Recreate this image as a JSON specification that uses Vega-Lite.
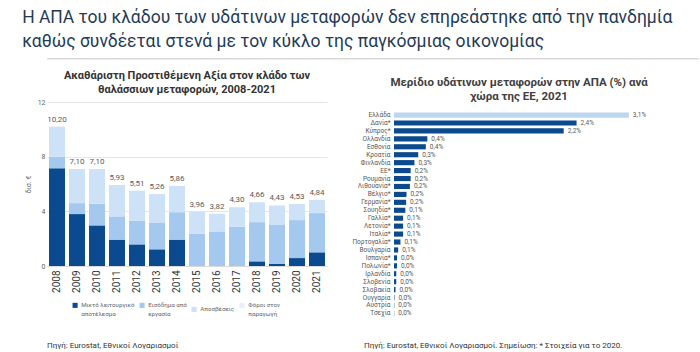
{
  "$schema": "https://vega.github.io/schema/vega-lite/v6.json",
  "background": "white",
  "padding": {"left": 22, "top": 8, "right": 5, "bottom": 0},
  "title": {
    "text": ["Η ΑΠΑ του κλάδου των υδάτινων μεταφορών δεν επηρεάστηκε από την πανδημία", "καθώς συνδέεται στενά με τον κύκλο της παγκόσμιας οικονομίας"],
    "anchor": "start", "fontSize": 17.5, "font": "Roboto, sans-serif", "fontWeight": "normal",
    "color": "#1f3b57", "lineHeight": 24, "offset": 8, "dx": -2
  },
  "config": {
    "font": "Roboto, sans-serif",
    "view": {"stroke": null}
  },
  "resolve": {"scale": {"color": "independent"}, "legend": {"color": "independent"}},
  "datasets": {
    "gva": [
      {"year": "2008", "component": "Μικτό λειτουργικό αποτέλεσμα", "value": 7.15},
      {"year": "2008", "component": "Εισόδημα από εργασία", "value": 0.85},
      {"year": "2008", "component": "Αποσβέσεις", "value": 2.20},
      {"year": "2008", "component": "Φόροι στον παραγωγή", "value": 0},
      {"year": "2009", "component": "Μικτό λειτουργικό αποτέλεσμα", "value": 3.80},
      {"year": "2009", "component": "Εισόδημα από εργασία", "value": 0.80},
      {"year": "2009", "component": "Αποσβέσεις", "value": 2.50},
      {"year": "2009", "component": "Φόροι στον παραγωγή", "value": 0},
      {"year": "2010", "component": "Μικτό λειτουργικό αποτέλεσμα", "value": 2.97},
      {"year": "2010", "component": "Εισόδημα από εργασία", "value": 1.58},
      {"year": "2010", "component": "Αποσβέσεις", "value": 2.55},
      {"year": "2010", "component": "Φόροι στον παραγωγή", "value": 0},
      {"year": "2011", "component": "Μικτό λειτουργικό αποτέλεσμα", "value": 1.93},
      {"year": "2011", "component": "Εισόδημα από εργασία", "value": 1.70},
      {"year": "2011", "component": "Αποσβέσεις", "value": 2.30},
      {"year": "2011", "component": "Φόροι στον παραγωγή", "value": 0},
      {"year": "2012", "component": "Μικτό λειτουργικό αποτέλεσμα", "value": 1.58},
      {"year": "2012", "component": "Εισόδημα από εργασία", "value": 1.75},
      {"year": "2012", "component": "Αποσβέσεις", "value": 2.18},
      {"year": "2012", "component": "Φόροι στον παραγωγή", "value": 0},
      {"year": "2013", "component": "Μικτό λειτουργικό αποτέλεσμα", "value": 1.22},
      {"year": "2013", "component": "Εισόδημα από εργασία", "value": 1.97},
      {"year": "2013", "component": "Αποσβέσεις", "value": 2.07},
      {"year": "2013", "component": "Φόροι στον παραγωγή", "value": 0},
      {"year": "2014", "component": "Μικτό λειτουργικό αποτέλεσμα", "value": 1.93},
      {"year": "2014", "component": "Εισόδημα από εργασία", "value": 2.01},
      {"year": "2014", "component": "Αποσβέσεις", "value": 1.92},
      {"year": "2014", "component": "Φόροι στον παραγωγή", "value": 0},
      {"year": "2015", "component": "Μικτό λειτουργικό αποτέλεσμα", "value": 0},
      {"year": "2015", "component": "Εισόδημα από εργασία", "value": 2.36},
      {"year": "2015", "component": "Αποσβέσεις", "value": 1.60},
      {"year": "2015", "component": "Φόροι στον παραγωγή", "value": 0},
      {"year": "2016", "component": "Μικτό λειτουργικό αποτέλεσμα", "value": 0},
      {"year": "2016", "component": "Εισόδημα από εργασία", "value": 2.53},
      {"year": "2016", "component": "Αποσβέσεις", "value": 1.29},
      {"year": "2016", "component": "Φόροι στον παραγωγή", "value": 0},
      {"year": "2017", "component": "Μικτό λειτουργικό αποτέλεσμα", "value": 0},
      {"year": "2017", "component": "Εισόδημα από εργασία", "value": 2.87},
      {"year": "2017", "component": "Αποσβέσεις", "value": 1.43},
      {"year": "2017", "component": "Φόροι στον παραγωγή", "value": 0},
      {"year": "2018", "component": "Μικτό λειτουργικό αποτέλεσμα", "value": 0.34},
      {"year": "2018", "component": "Εισόδημα από εργασία", "value": 2.87},
      {"year": "2018", "component": "Αποσβέσεις", "value": 1.45},
      {"year": "2018", "component": "Φόροι στον παραγωγή", "value": 0},
      {"year": "2019", "component": "Μικτό λειτουργικό αποτέλεσμα", "value": 0.15},
      {"year": "2019", "component": "Εισόδημα από εργασία", "value": 2.89},
      {"year": "2019", "component": "Αποσβέσεις", "value": 1.39},
      {"year": "2019", "component": "Φόροι στον παραγωγή", "value": 0},
      {"year": "2020", "component": "Μικτό λειτουργικό αποτέλεσμα", "value": 0.58},
      {"year": "2020", "component": "Εισόδημα από εργασία", "value": 2.78},
      {"year": "2020", "component": "Αποσβέσεις", "value": 1.17},
      {"year": "2020", "component": "Φόροι στον παραγωγή", "value": 0},
      {"year": "2021", "component": "Μικτό λειτουργικό αποτέλεσμα", "value": 1.00},
      {"year": "2021", "component": "Εισόδημα από εργασία", "value": 2.87},
      {"year": "2021", "component": "Αποσβέσεις", "value": 0.97},
      {"year": "2021", "component": "Φόροι στον παραγωγή", "value": 0}
    ],
    "totals": [
      {"year": "2008", "total": 10.20, "label": "10,20"},
      {"year": "2009", "total": 7.10, "label": "7,10"},
      {"year": "2010", "total": 7.10, "label": "7,10"},
      {"year": "2011", "total": 5.93, "label": "5,93"},
      {"year": "2012", "total": 5.51, "label": "5,51"},
      {"year": "2013", "total": 5.26, "label": "5,26"},
      {"year": "2014", "total": 5.86, "label": "5,86"},
      {"year": "2015", "total": 3.96, "label": "3,96"},
      {"year": "2016", "total": 3.82, "label": "3,82"},
      {"year": "2017", "total": 4.30, "label": "4,30"},
      {"year": "2018", "total": 4.66, "label": "4,66"},
      {"year": "2019", "total": 4.43, "label": "4,43"},
      {"year": "2020", "total": 4.53, "label": "4,53"},
      {"year": "2021", "total": 4.84, "label": "4,84"}
    ],
    "share": [
      {"country": "Ελλάδα", "share": 3.1, "label": "3,1%"},
      {"country": "Δανία*", "share": 2.41, "label": "2,4%"},
      {"country": "Κύπρος*", "share": 2.24, "label": "2,2%"},
      {"country": "Ολλανδία", "share": 0.44, "label": "0,4%"},
      {"country": "Εσθονία", "share": 0.42, "label": "0,4%"},
      {"country": "Κροατία", "share": 0.32, "label": "0,3%"},
      {"country": "Φινλανδία", "share": 0.27, "label": "0,3%"},
      {"country": "ΕΕ*", "share": 0.22, "label": "0,2%"},
      {"country": "Ρουμανία", "share": 0.22, "label": "0,2%"},
      {"country": "Λιθουανία*", "share": 0.21, "label": "0,2%"},
      {"country": "Βέλγιο*", "share": 0.165, "label": "0,2%"},
      {"country": "Γερμανία*", "share": 0.16, "label": "0,2%"},
      {"country": "Σουηδία*", "share": 0.15, "label": "0,1%"},
      {"country": "Γαλλία*", "share": 0.12, "label": "0,1%"},
      {"country": "Λετονία*", "share": 0.12, "label": "0,1%"},
      {"country": "Ιταλία*", "share": 0.12, "label": "0,1%"},
      {"country": "Πορτογαλία*", "share": 0.085, "label": "0,1%"},
      {"country": "Βουλγαρία", "share": 0.055, "label": "0,1%"},
      {"country": "Ισπανία*", "share": 0.04, "label": "0,0%"},
      {"country": "Πολωνία*", "share": 0.04, "label": "0,0%"},
      {"country": "Ιρλανδία", "share": 0.03, "label": "0,0%"},
      {"country": "Σλοβενία", "share": 0.03, "label": "0,0%"},
      {"country": "Σλοβακία", "share": 0.02, "label": "0,0%"},
      {"country": "Ουγγαρία", "share": 0.006, "label": "0,0%"},
      {"country": "Αυστρία", "share": 0.004, "label": "0,0%"},
      {"country": "Τσεχία", "share": 0.003, "label": "0,0%"}
    ]
  },
  "spacing": 10,
  "vconcat": [
    {
      "width": 652, "height": 1.5,
      "data": {"values": [{}]},
      "mark": {"type": "rect", "color": "#d9d9d9"},
      "encoding": {}
    },
    {
      "spacing": 24,
      "resolve": {"scale": {"color": "independent"}, "legend": {"color": "independent"}},
      "hconcat": [
        {
          "width": 280, "height": 164,
          "title": {"text": ["Ακαθάριστη Προστιθέμενη Αξία στον κλάδο των", "θαλάσσιων μεταφορών, 2008-2021"], "fontSize": 11, "fontWeight": "bold", "color": "#333333", "lineHeight": 14, "offset": 3},
          "layer": [
            {
              "data": {"name": "gva"},
              "mark": {"type": "bar"},
              "encoding": {
                "x": {"field": "year", "type": "ordinal", "scale": {"paddingInner": 0.2, "paddingOuter": 0.1},
                      "axis": {"title": null, "labelAngle": -90, "labelFontSize": 10, "labelColor": "#333333", "ticks": false, "domainColor": "#d9d9d9", "labelPadding": 4}},
                "y": {"field": "value", "type": "quantitative", "stack": "zero", "scale": {"domain": [0, 12]},
                      "axis": {"title": "δισ. €", "values": [0, 2, 4, 6, 8, 10, 12], "labelFontSize": 7, "gridColor": "#e6e6e6", "domain": false, "ticks": false, "titleFontSize": 7, "titleFontWeight": "normal", "titleColor": "#666666", "labelColor": "#666666", "format": "d", "titlePadding": 6}},
                "color": {"field": "component", "type": "nominal",
                          "scale": {"domain": ["Μικτό λειτουργικό αποτέλεσμα", "Εισόδημα από εργασία", "Αποσβέσεις", "Φόροι στον παραγωγή"], "range": ["#0b4a8e", "#a4c8ee", "#cde2f7", "#e8f1fb"]},
                          "legend": {"orient": "none", "legendX": 25, "legendY": 200, "title": null, "direction": "horizontal", "symbolType": "square", "symbolSize": 26, "labelFontSize": 6.2, "labelColor": "#666666", "columnPadding": 4, "symbolStrokeWidth": 0, "labelOffset": 3,
                                     "labelExpr": "datum.label == 'Μικτό λειτουργικό αποτέλεσμα' ? ['Μικτό λειτουργικό', 'αποτέλεσμα'] : datum.label == 'Εισόδημα από εργασία' ? ['Εισόδημα από', 'εργασία'] : datum.label == 'Φόροι στον παραγωγή' ? ['Φόροι στον', 'παραγωγή'] : datum.label"}},
                "order": {"field": "component", "sort": "descending"}
              }
            },
            {
              "data": {"name": "totals"},
              "mark": {"type": "text", "dy": -7, "fontSize": 8, "color": "#595959"},
              "encoding": {
                "x": {"field": "year", "type": "ordinal"},
                "y": {"field": "total", "type": "quantitative"},
                "text": {"field": "label"}
              }
            }
          ]
        },
        {
          "width": 250, "height": 214,
          "data": {"name": "share"},
          "title": {"text": ["Μερίδιο υδάτινων μεταφορών στην ΑΠΑ (%) ανά", "χώρα της ΕΕ, 2021"], "fontSize": 11.5, "fontWeight": "bold", "color": "#404040", "lineHeight": 14, "offset": 0},
          "encoding": {
            "y": {"field": "country", "type": "nominal", "sort": null, "scale": {"paddingInner": 0.35, "paddingOuter": 0.66, "align": 1},
                  "axis": {"title": null, "ticks": false, "domain": false, "labelFontSize": 6.5, "labelColor": "#595959", "labelPadding": 4}},
            "x": {"field": "share", "type": "quantitative", "scale": {"domain": [0, 3.3]}, "axis": null}
          },
          "layer": [
            {
              "mark": {"type": "bar"},
              "encoding": {
                "color": {"condition": {"test": "datum.country === 'Ελλάδα'", "value": "#bdd7f0"}, "value": "#0b4a8e"}
              }
            },
            {
              "mark": {"type": "text", "align": "left", "dx": 4, "fontSize": 6.5, "color": "#595959"},
              "encoding": {"text": {"field": "label"}}
            }
          ]
        }
      ]
    },
    {
      "spacing": 37,
      "hconcat": [
        {
          "width": 280, "height": 1,
          "data": {"values": [{}]},
          "mark": {"type": "text"},
          "encoding": {"text": {"value": ""}},
          "title": {"text": "Πηγή: Eurostat, Εθνικοί Λογαριασμοί", "anchor": "start", "orient": "bottom", "fontSize": 8, "fontWeight": "normal", "color": "#333333", "offset": 3}
        },
        {
          "width": 280, "height": 1,
          "data": {"values": [{}]},
          "mark": {"type": "text"},
          "encoding": {"text": {"value": ""}},
          "title": {"text": "Πηγή: Eurostat, Εθνικοί Λογαριασμοί. Σημείωση: * Στοιχεία για το 2020.", "anchor": "start", "orient": "bottom", "fontSize": 8, "fontWeight": "normal", "color": "#333333", "offset": 3}
        }
      ]
    }
  ]
}
